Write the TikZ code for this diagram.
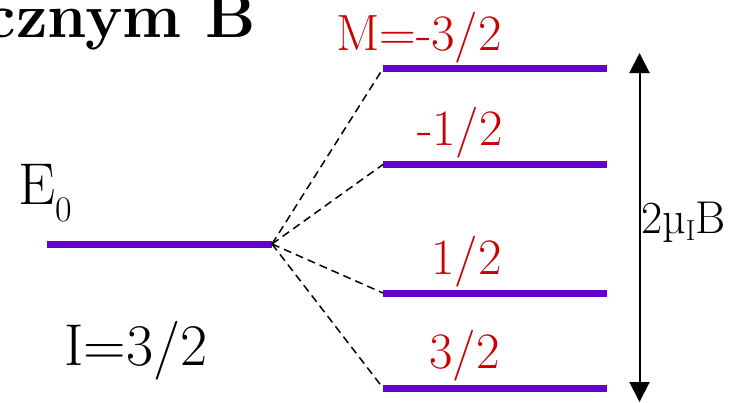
\documentclass[tikz,border=0pt]{standalone}
\usepackage{fontspec}
\usetikzlibrary{arrows.meta, positioning}

\definecolor{levelpurple}{HTML}{6600CC}
\definecolor{labelred}{HTML}{CC0000}

\begin{document}
\begin{tikzpicture}[
x=1pt, y=-1pt,
level/.style={draw=levelpurple, line width=7pt},
splitline/.style={dashed, dash pattern=on 8pt off 5pt, line width=1.5pt},
gaparrow/.style={{Triangle[length=20pt,width=20pt]}-{Triangle[length=20pt,width=20pt]}, line width=2pt},
mlabel/.style={text=labelred, font=\fontsize{51}{51}\selectfont, anchor=base east, inner sep=0pt},
plain/.style={font=\fontsize{59}{59}\selectfont, anchor=base west, inner sep=0pt}
]
\useasboundingbox (0,0) rectangle (749,402);

% title remnant
\node[font=\fontsize{63}{63}\bfseries\selectfont, anchor=base east, inner sep=0pt] (title) at (256,37) {cznym B};

% unsplit level
\coordinate (e0start) at (47,244);
\coordinate (split) at (272,244);
\draw[level] (e0start) -- (split);
\node[plain] (e0) at (18,204) {E\raisebox{-17pt}{\fontsize{36}{36}\selectfont 0}};
\node[plain] (spin) at (64,365) {I=3/2};

% split levels
\coordinate (lvlA) at (383,68.5);
\coordinate (lvlB) at (383,164.5);
\coordinate (lvlC) at (383,293);
\coordinate (lvlD) at (383,388);
\draw[level] (lvlA) -- ++(224,0);
\draw[level] (lvlB) -- ++(224,0);
\draw[level] (lvlC) -- ++(224,0);
\draw[level] (lvlD) -- ++(224,0);

\draw[splitline] (split) -- (lvlA);
\draw[splitline] (split) -- (lvlB);
\draw[splitline] (split) -- (lvlC);
\draw[splitline] (split) -- (lvlD);

\node[mlabel] (mA) at (502,50) {M=-3/2};
\node[mlabel] (mB) at (503,145) {-1/2};
\node[mlabel] (mC) at (502,274) {1/2};
\node[mlabel] (mD) at (500,368) {3/2};

% total splitting
\coordinate (gaptop) at (639.5,53);
\coordinate (gapbot) at (639.5,402);
\draw[gaparrow] (gapbot) -- (gaptop);
\node[font=\fontsize{46}{46}\selectfont, anchor=base west, inner sep=0pt] (gap) at (641,233) {2µ\raisebox{-7pt}{\fontsize{29}{29}\selectfont I}B};

\end{tikzpicture}
\end{document}
